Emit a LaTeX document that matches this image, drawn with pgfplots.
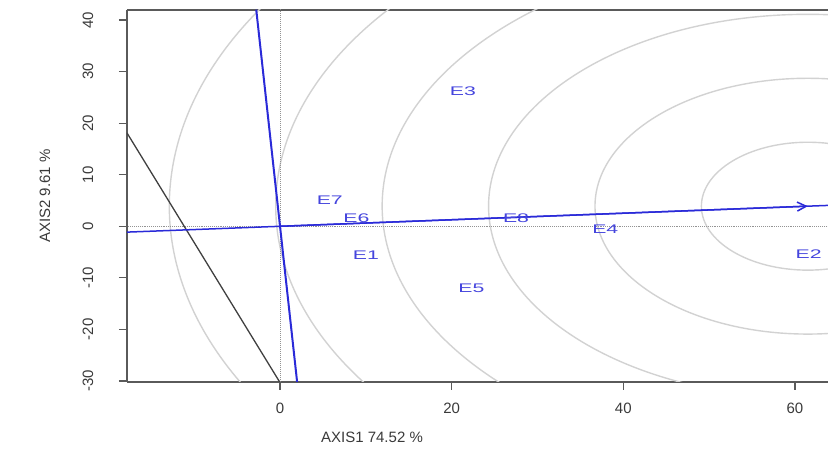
\documentclass[border=0pt]{standalone}
\usepackage{fontspec}
\setmainfont{Liberation Sans}
\usepackage{pgfplots}
\pgfplotsset{compat=1.18}
\usetikzlibrary{arrows.meta}
\definecolor{bblue}{HTML}{2A2AD8}
\definecolor{lblue}{HTML}{4545DD}
\definecolor{cgray}{HTML}{D2D2D2}
\definecolor{agray}{HTML}{5A5A5A}
\definecolor{tgray}{HTML}{3A3A3A}
\pgfplotstableread{
lab x y
E3 21.3 26.2
E7 5.8 5.0
E6 8.9 1.6
E8 27.5 1.5
E4 37.9 -0.5
E1 10.0 -5.7
E5 22.3 -12.1
E2 61.6 -5.4
}\envlabels
\begin{document}
\begin{tikzpicture}
\begin{axis}[
  at={(0,0)}, anchor=south west,
  scale only axis, width=701pt, height=372pt,
  xmin=-17.83, xmax=63.85, ymin=-30.19, ymax=41.94,
  axis x line*=box, axis y line*=left,
  axis line style={agray, line width=1.3pt},
  tick pos=left, tick align=outside, major tick length=8pt,
  tick style={agray, line width=1.1pt},
  xtick={0,20,40,60}, ytick={-30,-20,-10,0,10,20,30,40},
  /pgf/number format/assume math mode=true,
  ticklabel style={font=\fontsize{15}{17}\selectfont, text=tgray},
  yticklabel style={xshift=-31pt, rotate=90, anchor=center},
  xticklabel style={anchor=center, yshift=-18pt},
  every axis x label/.style={at={(axis description cs:0.3495,0)}, yshift=-55pt, anchor=center},
  every axis y label/.style={at={(axis description cs:0,0.5)}, xshift=-82pt, rotate=90, anchor=center},
  label style={font=\fontsize{15}{17}\selectfont, text=tgray},
  xlabel={AXIS1 74.52 \%},
  ylabel={AXIS2 9.61 \%},
  clip=true,
]
% concentric circles around the ideal environment
\pgfplotsinvokeforeach{12.4,24.8,37.2,49.6,62.0,74.4}{
  \draw[cgray, line width=1.4pt] (axis cs:61.5,3.9) ellipse [x radius=#1, y radius=#1];
}
% reference lines
\addplot[gray!85, densely dotted, line width=1pt] coordinates {(0,-31) (0,43)};
\addplot[gray!85, densely dotted, line width=0.9pt] coordinates {(-19,0) (65,0)};
% dark line
\addplot[black!75, line width=1.3pt] coordinates {(-17.83,18.1) (0,-30.3)};
% AEC abscissa
\addplot[bblue, line width=1.5pt] coordinates {(-17.83,-1.13) (63.85,4.05)};
\addplot[bblue, line width=1.5pt, -{Straight Barb[length=9pt,width=9pt]}] coordinates {(0,0) (61.5,3.9)};
% AEC ordinate
\addplot[bblue, line width=2pt] coordinates {(-2.77,42) (2.0,-30.3)};
% environment labels
\addplot[only marks, mark=none, nodes near coords={\scalebox{1.7}[1]{\pgfplotspointmeta}},
  nodes near coords align=center,
  point meta=explicit symbolic,
  every node near coord/.append style={font=\fontsize{12.5}{14}\selectfont, text=lblue, anchor=center}]
  table[x=x, y=y, meta=lab] {\envlabels};
\end{axis}
\pgfresetboundingbox
\path[use as bounding box] (-127pt,-75pt) rectangle (701pt,382pt);
\end{tikzpicture}
\end{document}
